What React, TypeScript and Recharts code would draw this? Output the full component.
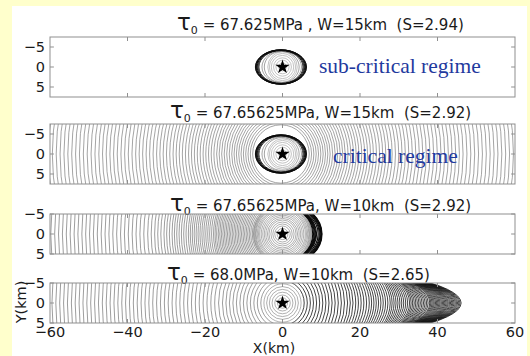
import React from 'react';
import { ScatterChart, Scatter, XAxis, YAxis, ReferenceArea, ReferenceLine } from 'recharts';

// ---- shared axis values ----
const xTicks = [-60, -40, -20, 0, 20, 40, 60];
const yTicks = [-5, 0, 5];
const hypocenter = [{ x: 0, y: 0 }];

// ---- panel 1 : tau0 = 67.625 MPa, W = 15 km (sub-critical) ----
const p1CoreRadii = [1.0, 1.7, 2.3, 2.9, 3.4, 3.8];
const p1MidRx = [4.5, 5.1];
const p1MidRy = [3.9, 4.0];
const p1RingRx = [5.7, 5.95, 6.15, 6.3, 6.42, 6.52, 6.6];
const p1RingRy = [4.1, 4.15, 4.2, 4.24, 4.27, 4.29, 4.3];

// ---- panel 2 : tau0 = 67.65625 MPa, W = 15 km (critical) ----
const p2CoreRadii = [1.0, 1.7, 2.3, 2.9, 3.4, 3.8];
const p2MidRx = [4.5, 5.1];
const p2MidRy = [4.1, 4.3];
const p2RingRx = [5.7, 5.95, 6.15, 6.3, 6.42, 6.52, 6.6];
const p2RingRy = [4.5, 4.58, 4.64, 4.7, 4.74, 4.78, 4.8];
const p2OuterRadii = [
  7.3, 7.9, 8.5, 9.1, 9.7, 10.3, 10.9, 11.5, 12.1, 12.7, 13.35, 14.0, 14.65, 15.3, 15.95, 16.6,
  17.3, 18.0, 18.7, 19.4, 20.1, 20.85, 21.6, 22.35, 23.1, 23.85, 24.65, 25.45, 26.25, 27.05, 27.85,
  28.7, 29.55, 30.4, 31.25, 32.1, 33.0, 33.9, 34.8, 35.7, 36.6, 37.5, 38.45, 39.4, 40.35, 41.3,
  42.25, 43.2, 44.15, 45.1, 46.05, 47.0, 48.0, 49.0, 50.0, 51.0, 52.0, 53.0, 54.0, 55.0, 56.0,
  57.0, 58.0, 59.0, 60.0, 61.0, 62.0,
];

// ---- panel 3 : tau0 = 67.65625 MPa, W = 10 km ----
const p3CoreRadii = [0.8, 1.4, 2.0, 2.5, 3.0, 3.5, 3.9, 4.3, 4.7, 5.1, 5.5, 5.9, 6.2, 6.5, 6.8, 7.0, 7.2, 7.4, 7.5];
const p3LeftRadii = [
  7.8, 8.2, 8.6, 9.0, 9.4, 9.8, 10.2, 10.6, 11.0, 11.4, 11.8, 12.2, 12.6, 13.0, 13.4, 13.8, 14.2,
  14.6, 15.0, 15.4, 15.8, 16.2, 16.6, 17.0, 17.4, 17.8, 18.3, 18.8, 19.3, 19.8, 20.3, 20.8, 21.3,
  21.8, 22.3, 22.8, 23.3, 23.8, 24.3, 24.9, 25.5, 26.1, 26.7, 27.3, 27.9, 28.5, 29.2, 29.9, 30.6,
  31.4, 32.2, 33.0, 33.9, 34.8, 35.8, 36.8, 37.8, 38.8, 39.8, 40.8, 41.8, 42.8, 43.8, 44.8, 45.8,
  46.8, 47.8, 48.8, 49.8, 50.8, 51.8, 52.8, 53.8, 54.8, 55.8, 56.8, 57.8, 58.8, 59.8,
];
const p3RightRx = [7.8, 8.0, 8.2, 8.4, 8.6, 8.8, 9.2, 9.5, 9.7, 9.9, 10.0, 10.1, 10.2];
const p3RightRy = [7.0, 6.9, 6.9, 6.8, 6.8, 6.7, 6.9, 7.2, 7.4, 7.6, 7.7, 7.8, 7.9];

// ---- panel 4 : tau0 = 68.0 MPa, W = 10 km ----
const p4CoreRadii = [1.3, 2.0, 2.7, 3.4, 4.1, 4.8];
const p4LeftRadii = [
  5.6, 6.5, 7.4, 8.3, 9.2, 10.1, 11.0, 11.9, 12.8, 13.7, 14.6, 15.5, 16.5, 17.5, 18.5, 19.5, 20.5,
  21.5, 22.5, 23.5, 24.5, 25.5, 26.5, 27.5, 28.5, 29.5, 30.5, 31.5, 32.5, 33.5, 34.5, 35.5, 36.5,
  37.5, 38.5, 39.5, 40.5, 41.5, 42.5, 43.5, 44.5, 45.5, 46.5, 47.5, 48.5, 49.5, 50.5, 51.5, 52.5,
  53.5, 54.5, 55.5, 56.5, 57.5, 58.5, 59.5,
];
const p4RightRx = [
  5.6, 6.4, 7.2, 8.0, 8.8, 9.6, 10.4, 11.2, 12.0, 12.8, 13.6, 14.4, 15.2, 16.0, 16.8, 17.5, 18.2,
  18.9, 19.6, 20.3, 21.0, 21.7, 22.4, 23.0, 23.6, 24.2, 24.8, 25.4, 26.0, 26.6, 27.2, 27.8, 28.3,
  28.8, 29.3, 29.8, 30.3, 30.8, 31.3, 31.8, 32.3, 32.8, 33.2, 33.6, 34.0, 34.4, 34.8, 35.2, 35.6,
  36.0, 36.4, 36.8, 37.2, 37.6, 38.0, 38.3, 38.6, 38.9, 39.2, 39.5, 39.8, 40.1, 40.4, 40.7, 41.0,
  41.3, 41.6, 41.9, 42.2, 42.5, 42.8, 43.1, 43.4, 43.7, 44.0, 44.3, 44.6, 44.9, 45.2, 45.5, 45.8, 46.1,
];
const p4RightRy = [
  5.6, 6.4, 7.2, 8.0, 8.8, 9.6, 10.4, 11.2, 12.0, 12.8, 13.6, 14.4, 15, 15, 15, 15, 15,
  15, 15, 15, 15, 15, 15, 15, 15, 15, 15, 15, 15, 15, 15, 15, 14.8,
  14.6, 14.4, 14.2, 14.0, 13.8, 13.6, 13.4, 13.2, 13.0, 12.8, 12.6, 12.4, 12.2, 12.0, 11.8, 11.6,
  11.4, 11.2, 11.0, 10.9, 10.8, 10.7, 10.6, 10.5, 10.4, 10.3, 10.2, 10.1, 10.0, 9.9, 9.8, 9.7,
  9.6, 9.5, 9.45, 9.4, 9.35, 9.3, 9.25, 9.2, 9.15, 9.1, 9.05, 9.0, 9.0, 8.95, 8.9, 8.9, 8.9,
];

type Side = 'both' | 'left' | 'right';
interface Front { cx: number; rx: number; ry: number; side: Side; stroke: string; w: number }

const LIGHT = '#9a9a9a';
const GRAY = '#666';
const DARK = '#0a0a0a';

const circles = (radii: number[], side: Side, stroke = LIGHT, w = 0.6, cx = 0): Front[] =>
  radii.map(r => ({ cx, rx: r, ry: r, side, stroke, w }));
const ellipses = (rx: number[], ry: number[], side: Side, stroke = DARK, w = 0.9, cx = 0): Front[] =>
  rx.map((r, i) => ({ cx, rx: r, ry: ry[i], side, stroke, w }));

const panel1 = [
  ...circles(p1CoreRadii, 'both'),
  ...ellipses(p1MidRx, p1MidRy, 'both', GRAY, 0.6, -0.2),
  ...ellipses(p1RingRx, p1RingRy, 'both', DARK, 0.9, -0.4),
];
const panel2 = [
  ...circles(p2CoreRadii, 'both'),
  ...ellipses(p2MidRx, p2MidRy, 'both', GRAY, 0.6, -0.2),
  ...ellipses(p2RingRx, p2RingRy, 'both', DARK, 0.9, -0.4),
  ...circles(p2OuterRadii, 'both', '#666', 0.6, -0.4),
];
const panel3 = [
  ...circles(p3CoreRadii, 'both', '#7a7a7a'),
  ...circles(p3LeftRadii, 'left', '#5a5a5a', 0.6),
  ...ellipses(p3RightRx, p3RightRy, 'right', DARK, 1.1),
];
const panel4 = [
  ...circles(p4CoreRadii, 'both', '#7a7a7a'),
  ...circles(p4LeftRadii, 'left', '#5a5a5a', 0.6),
  ...ellipses(p4RightRx, p4RightRy, 'right', '#151515', 0.8),
];

const arcShape = (f: Front) => (p: any) => {
  const { x, y, width, height, clipPath } = p;
  const cx = x + width / 2;
  const cy = y + height / 2;
  const rx = width / 2;
  const ry = height / 2;
  if (f.side === 'both') {
    return <ellipse cx={cx} cy={cy} rx={rx} ry={ry} fill="none" stroke={f.stroke} strokeWidth={f.w} clipPath={clipPath} />;
  }
  const sweep = f.side === 'left' ? 0 : 1;
  return (
    <path
      d={`M${cx},${cy - ry}A${rx},${ry} 0 0 ${sweep} ${cx},${cy + ry}`}
      fill="none" stroke={f.stroke} strokeWidth={f.w} clipPath={clipPath}
    />
  );
};

const frameShape = (p: any) => (
  <rect x={p.x} y={p.y} width={p.width} height={p.height} fill="none" stroke="#8f8f8f" strokeWidth={1} />
);

const minus = (v: number) => String(v).replace('-', '\u2212');
const FONT = '"DejaVu Sans", sans-serif';
const TICK = '#8f8f8f';
const PAD = 10;

interface PanelProps { top: number; plotH: number; yMax: number; fronts: Front[]; labels?: boolean }

const Panel: React.FC<PanelProps> = ({ top, plotH, yMax, fronts, labels }) => {
  const axisH = labels ? 24 : 1;
  return (
    <div style={{ position: 'absolute', left: 0, top: top - PAD }}>
      <ScatterChart width={530} height={plotH + PAD * 2 + axisH} margin={{ top: PAD, right: 15, bottom: PAD, left: 12 }}>
        <XAxis
          type="number" dataKey="x" domain={[-60, 60]} ticks={xTicks} allowDataOverflow interval={0}
          height={axisH} axisLine={false} tickLine={false} tickSize={0} tickMargin={4}
          tick={labels ? { fill: '#1a1a1a', fontSize: 14.5, fontFamily: FONT } : false}
          tickFormatter={minus}
        />
        <YAxis
          type="number" dataKey="y" domain={[-yMax, yMax]} reversed ticks={yTicks} allowDataOverflow interval={0}
          width={38} axisLine={false} tickLine={false} tickSize={0} tickMargin={5}
          tick={{ fill: '#1a1a1a', fontSize: 14.5, fontFamily: FONT }} tickFormatter={minus}
        />
        {fronts.map((f, i) => (
          <ReferenceArea
            key={i} x1={f.cx - f.rx} x2={f.cx + f.rx} y1={-f.ry} y2={f.ry}
            ifOverflow="hidden" shape={arcShape(f)}
          />
        ))}
        <ReferenceArea x1={-60} x2={60} y1={-yMax} y2={yMax} ifOverflow="visible" shape={frameShape} />
        {xTicks.slice(1, -1).map(t => (
          <ReferenceLine key={`xt${t}`} segment={[{ x: t, y: -yMax }, { x: t, y: -yMax + 1 }]} stroke={TICK} ifOverflow="visible" />
        ))}
        {xTicks.slice(1, -1).map(t => (
          <ReferenceLine key={`xb${t}`} segment={[{ x: t, y: yMax }, { x: t, y: yMax - 1 }]} stroke={TICK} ifOverflow="visible" />
        ))}
        {yTicks.map(t => (
          <ReferenceLine key={`yl${t}`} segment={[{ x: -60, y: t }, { x: -59, y: t }]} stroke={TICK} ifOverflow="visible" />
        ))}
        {yTicks.map(t => (
          <ReferenceLine key={`yr${t}`} segment={[{ x: 60, y: t }, { x: 59, y: t }]} stroke={TICK} ifOverflow="visible" />
        ))}
        <Scatter data={hypocenter} shape="star" fill="#000" isAnimationActive={false} />
      </ScatterChart>
    </div>
  );
};

const Title: React.FC<{ left: number; top: number; text: string }> = ({ left, top, text }) => (
  <div style={{ position: 'absolute', left, top, fontFamily: FONT, fontSize: 15, lineHeight: '20px', color: '#1a1a1a', whiteSpace: 'pre' }}>
    <span style={{ fontSize: 23 }}>τ</span>
    <span style={{ fontSize: 11, position: 'relative', top: 4 }}>0</span>
    {text}
  </div>
);

const noteStyle: React.CSSProperties = {
  position: 'absolute', fontFamily: '"Liberation Serif", serif', fontSize: 21.5, color: '#1f3a9e',
  lineHeight: '22px', whiteSpace: 'pre',
};

export default function App() {
  return (
    <div style={{ position: 'fixed', left: 0, top: 0, width: 530, height: 356, background: '#ffffcc', overflow: 'hidden' }}>
      <div style={{ position: 'absolute', left: 12, top: 6, width: 515, height: 350, background: '#fff' }} />
      <Title left={177} top={12} text={' = 67.625MPa , W=15km  (S=2.94)'} />
      <Panel top={37} plotH={60} yMax={7.5} fronts={panel1} />
      <div style={{ ...noteStyle, left: 319, top: 55 }}>sub-critical regime</div>

      <Title left={170} top={100} text={' = 67.65625MPa, W=15km  (S=2.92)'} />
      <Panel top={124} plotH={60} yMax={7.5} fronts={panel2} />
      <div style={{ ...noteStyle, left: 333, top: 145 }}>critical regime</div>

      <Title left={170} top={193} text={' = 67.65625MPa, W=10km  (S=2.92)'} />
      <Panel top={214} plotH={40} yMax={5} fronts={panel3} />

      <Title left={167} top={262} text={' = 68.0MPa, W=10km  (S=2.65)'} />
      <Panel top={283} plotH={40} yMax={5} fronts={panel4} labels />

      <div style={{ position: 'absolute', left: 21, top: 302, transform: 'translate(-50%, -50%) rotate(-90deg)', fontFamily: FONT, fontSize: 14.5, lineHeight: 1, color: '#1a1a1a', whiteSpace: 'pre' }}>Y(km)</div>
      <div style={{ position: 'absolute', left: 274, top: 348, transform: 'translate(-50%, -50%)', fontFamily: FONT, fontSize: 14, lineHeight: '13px', color: '#1a1a1a', whiteSpace: 'pre' }}>X(km)</div>
    </div>
  );
}
